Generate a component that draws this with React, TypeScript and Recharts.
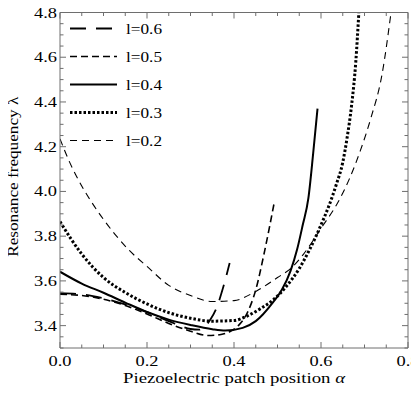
import { LineChart, Line, XAxis, YAxis, Legend } from "recharts";

// [alpha, lambda] pairs
const l06: [number, number][] = [
  [0, 3.545], [0.05, 3.54], [0.1, 3.522], [0.15, 3.495], [0.2, 3.46], [0.25, 3.42],
  [0.3, 3.385], [0.32, 3.382], [0.335, 3.4], [0.345, 3.425], [0.36, 3.48], [0.375, 3.57], [0.39, 3.68],
];
const l05: [number, number][] = [
  [0, 3.54], [0.05, 3.535], [0.1, 3.518], [0.15, 3.49], [0.2, 3.452], [0.25, 3.41], [0.3, 3.375],
  [0.34, 3.356], [0.37, 3.36], [0.39, 3.373], [0.41, 3.4], [0.43, 3.455], [0.45, 3.56], [0.47, 3.73], [0.492, 3.945],
];
const l04: [number, number][] = [
  [0, 3.641], [0.05, 3.588], [0.1, 3.547], [0.15, 3.503], [0.2, 3.461], [0.25, 3.427], [0.3, 3.403],
  [0.35, 3.384], [0.38, 3.378], [0.42, 3.39], [0.45, 3.42], [0.49, 3.505], [0.51, 3.56], [0.53, 3.645],
  [0.545, 3.74], [0.558, 3.85], [0.571, 3.97], [0.582, 4.17], [0.592, 4.37],
];
const l03: [number, number][] = [
  [0, 3.865], [0.05, 3.72], [0.1, 3.615], [0.15, 3.548], [0.2, 3.497], [0.25, 3.458], [0.3, 3.433],
  [0.35, 3.42], [0.4, 3.423], [0.43, 3.443], [0.46, 3.475], [0.49, 3.515], [0.52, 3.575], [0.55, 3.655],
  [0.575, 3.745], [0.6, 3.85], [0.62, 3.945], [0.635, 4.03], [0.65, 4.13], [0.66, 4.24], [0.67, 4.38],
  [0.68, 4.58], [0.687, 4.8],
];
const l02: [number, number][] = [
  [0, 4.235], [0.02, 4.14], [0.04, 4.06], [0.07, 3.96], [0.1, 3.875], [0.13, 3.8], [0.16, 3.735],
  [0.2, 3.665], [0.25, 3.58], [0.3, 3.535], [0.35, 3.508], [0.4, 3.512], [0.45, 3.553], [0.5, 3.615],
  [0.53, 3.655], [0.56, 3.72], [0.6, 3.835], [0.64, 3.955], [0.665, 4.055], [0.69, 4.18], [0.715, 4.33],
  [0.74, 4.52], [0.761, 4.8],
];

const xTicks = [0, 0.05, 0.1, 0.15, 0.2, 0.25, 0.3, 0.35, 0.4, 0.45, 0.5, 0.55, 0.6, 0.65, 0.7, 0.75, 0.8];
const yTicks = [
  3.3, 3.35, 3.4, 3.45, 3.5, 3.55, 3.6, 3.65, 3.7, 3.75, 3.8, 3.85, 3.9, 3.95, 4.0, 4.05,
  4.1, 4.15, 4.2, 4.25, 4.3, 4.35, 4.4, 4.45, 4.5, 4.55, 4.6, 4.65, 4.7, 4.75, 4.8,
];

const series = [
  { name: "l=0.6", points: l06, width: 1.8, dash: "16 10" },
  { name: "l=0.5", points: l05, width: 1.6, dash: "7 4" },
  { name: "l=0.4", points: l04, width: 2, dash: undefined },
  { name: "l=0.3", points: l03, width: 3, dash: "2.5 2" },
  { name: "l=0.2", points: l02, width: 1.1, dash: "7 5" },
];

const AXIS = "#6e6e6e";
const FONT = '"Liberation Serif", "DejaVu Serif", serif';

const isMajor = (v: number) => Math.abs(v * 5 - Math.round(v * 5)) < 1e-6;
const toRows = (pts: [number, number][]) => pts.map(([a, v]) => ({ a, v }));

function BottomTick({ x, y, payload }: any) {
  const major = isMajor(payload.value);
  return (
    <g>
      <line x1={x} x2={x} y1={y} y2={y - (major ? 6 : 3.5)} stroke={AXIS} />
      {major && (
        <text x={x} y={y + 18} textAnchor="middle" fontSize={15} fontFamily={FONT} fill="#000"
          textLength={23} lengthAdjust="spacingAndGlyphs">
          {payload.value.toFixed(1)}
        </text>
      )}
    </g>
  );
}

function TopTick({ x, y, payload }: any) {
  const major = isMajor(payload.value);
  return <line x1={x} x2={x} y1={y} y2={y + (major ? 6 : 3.5)} stroke={AXIS} />;
}

function LeftTick({ x, y, payload }: any) {
  const major = isMajor(payload.value);
  return (
    <g>
      <line x1={x} x2={x + (major ? 6 : 3.5)} y1={y} y2={y} stroke={AXIS} />
      {major && (
        <text x={x - 3} y={y + 5} textAnchor="end" fontSize={15} fontFamily={FONT} fill="#000"
          textLength={23} lengthAdjust="spacingAndGlyphs">
          {payload.value.toFixed(1)}
        </text>
      )}
    </g>
  );
}

function RightTick({ x, y, payload }: any) {
  const major = isMajor(payload.value);
  return <line x1={x} x2={x - (major ? 6 : 3.5)} y1={y} y2={y} stroke={AXIS} />;
}

function XTitle(props: any) {
  const vb = props.viewBox || { x: 60, y: 348, width: 348, height: 53 };
  return (
    <text x={vb.x + vb.width / 2} y={vb.y + 35} textAnchor="middle" fontSize={15} fontFamily={FONT}
      fill="#000" textLength={222} lengthAdjust="spacingAndGlyphs">
      Piezoelectric patch position <tspan fontStyle="italic">α</tspan>
    </text>
  );
}

function YTitle(props: any) {
  const vb = props.viewBox || { x: 0, y: 12.5, width: 60, height: 335.5 };
  const tx = vb.x + 18;
  const ty = vb.y + vb.height / 2 - 3.5;
  return (
    <text x={tx} y={ty} transform={`rotate(-90, ${tx}, ${ty})`} textAnchor="middle" fontSize={14}
      fontFamily={FONT} fill="#000" textLength={160} lengthAdjust="spacingAndGlyphs">
      Resonance frequency λ
    </text>
  );
}

function LegendBox() {
  return (
    <svg width={130} height={145} style={{ display: "block" }}>
      {series.map((s, i) => {
        const cy = 14.5 + i * 28;
        return (
          <g key={s.name}>
            <line x1={10} x2={57} y1={cy} y2={cy} stroke="#000" strokeWidth={s.width}
              strokeDasharray={s.dash} />
            <text x={66} y={cy + 5} fontSize={14} fontFamily={FONT} fill="#000"
              textLength={36} lengthAdjust="spacingAndGlyphs">
              {s.name}
            </text>
          </g>
        );
      })}
    </svg>
  );
}

export default function App() {
  return (
    <div style={{ margin: -8, width: 419, height: 401 }}>
      <LineChart width={419} height={401} margin={{ top: 11.5, right: 10, bottom: 0, left: 0 }}>
        <XAxis xAxisId="b" type="number" dataKey="a" domain={[0, 0.8]} ticks={xTicks} interval={0}
          allowDataOverflow tickSize={0} tickMargin={0} tickLine={false} tick={BottomTick}
          axisLine={{ stroke: AXIS }} height={53} label={XTitle} />
        <XAxis xAxisId="t" orientation="top" type="number" dataKey="a" domain={[0, 0.8]} ticks={xTicks}
          interval={0} allowDataOverflow tickSize={0} tickMargin={0} tickLine={false} tick={TopTick}
          axisLine={{ stroke: AXIS }} height={1} />
        <YAxis yAxisId="l" type="number" domain={[3.3, 4.8]} ticks={yTicks} interval={0} allowDataOverflow
          tickSize={0} tickMargin={0} tickLine={false} tick={LeftTick} axisLine={{ stroke: AXIS }}
          width={60} label={YTitle} />
        <YAxis yAxisId="r" orientation="right" type="number" domain={[3.3, 4.8]} ticks={yTicks} interval={0}
          allowDataOverflow tickSize={0} tickMargin={0} tickLine={false} tick={RightTick}
          axisLine={{ stroke: AXIS }} width={1} />
        <Legend layout="vertical" align="center" verticalAlign="middle" content={() => <LegendBox />}
          wrapperStyle={{ left: 60, top: 14, width: 130, height: 145 }} />
        {series.map((s) => (
          <Line key={s.name} name={s.name} data={toRows(s.points)} dataKey="v" xAxisId="b" yAxisId="l"
            type="monotone" stroke="#000" strokeWidth={s.width} strokeDasharray={s.dash} dot={false}
            activeDot={false} isAnimationActive={false} />
        ))}
      </LineChart>
    </div>
  );
}
